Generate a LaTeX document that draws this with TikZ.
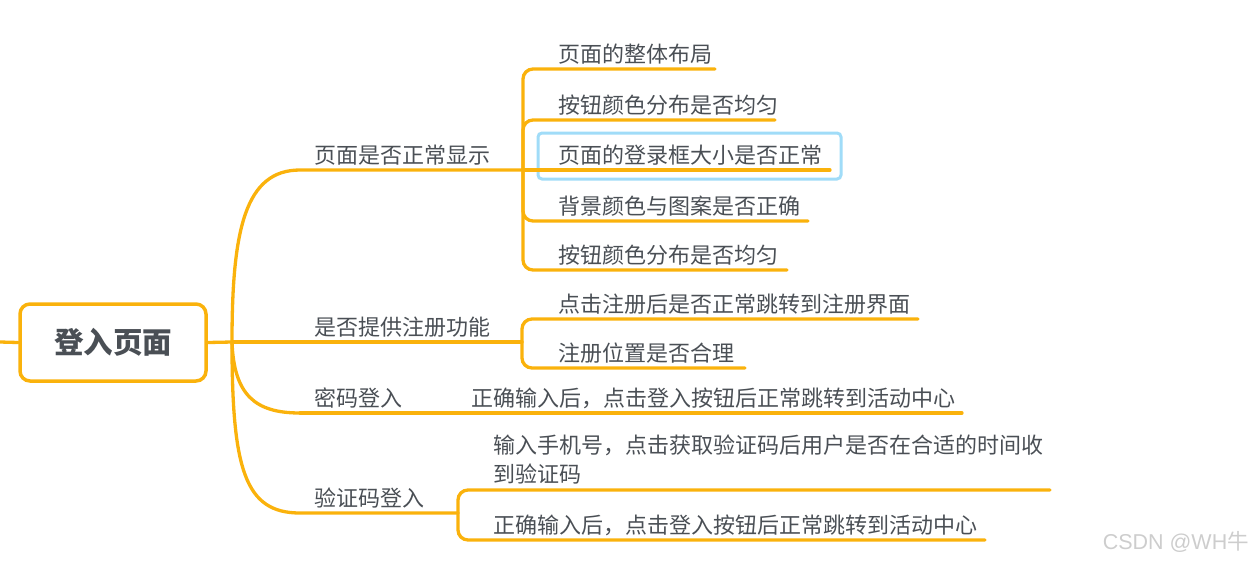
\documentclass[tikz,border=0pt]{standalone}
\usepackage{fontspec}
\setmainfont{Noto Sans CJK SC}
\newfontfamily\cjk{Noto Sans CJK SC}
\newfontfamily\wmfont{Liberation Sans}
\definecolor{branch}{RGB}{250,178,12}
\definecolor{txt}{RGB}{74,79,85}
\definecolor{sel}{RGB}{160,220,248}
\definecolor{wm}{RGB}{205,205,205}
\tikzset{
  br/.style={draw=branch, line width=3.3pt, line cap=round, rounded corners=10pt},
  lbl/.style={anchor=base west, inner sep=0pt, text=txt, font=\cjk\fontsize{22}{29}\selectfont},
}
\begin{document}
\begin{tikzpicture}[x=1pt,y=-1pt]
\useasboundingbox (0,0) rectangle (1253,563);
% root
\node[draw=branch, line width=3.5pt, rounded corners=10pt, minimum width=186pt, minimum height=77pt, inner sep=0pt,
  text=txt, font=\cjk\bfseries\fontsize{29.5}{34}\selectfont] (root) at (113,342.5) {登入页面};
\coordinate (stub) at (0,342);
\draw[br, rounded corners=0pt] (stub) -- (root.west);
\coordinate (J) at (232,342);
% level 1 labels
\node[lbl] (A) at (314,163) {页面是否正常显示};
\node[lbl] (B) at (314,335) {是否提供注册功能};
\node[lbl] (C) at (314,406) {密码登入};
\node[lbl] (D) at (314,506) {验证码登入};
% junctions
\coordinate (JA) at (523,170);
\coordinate (JB) at (522,342);
\coordinate (JD) at (458,513);
\coordinate (A0) at (300,170);
\coordinate (C0) at (300,413);
\coordinate (D0) at (300,513);
\draw[br, rounded corners=0pt] (root.east) -- (J);
\draw[br, rounded corners=0pt] (J) .. controls (232,230) and (245,170) .. (A0) -- (JA);
\draw[br, rounded corners=0pt] (J) -- (JB);
\draw[br, rounded corners=0pt] (J) .. controls (234,395) and (255,413) .. (C0);
\draw[br, rounded corners=0pt] (J) .. controls (232,470) and (245,513) .. (D0) -- (JD);
% selection box
\draw[draw=sel, line width=3pt, rounded corners=4pt] (538,133) rectangle (841,179);
% A children
\node[lbl] (A1) at (558,62) {页面的整体布局};
\node[lbl] (A2) at (558,113) {按钮颜色分布是否均匀};
\node[lbl] (A3) at (558,163) {页面的登录框大小是否正常};
\node[lbl] (A4) at (558,214) {背景颜色与图案是否正确};
\node[lbl] (A5) at (558,263) {按钮颜色分布是否均匀};
\coordinate (A1e) at (715,69);
\coordinate (A2e) at (775,120);
\coordinate (A3e) at (830,170);
\coordinate (A4e) at (808,221);
\coordinate (A5e) at (787,270);
\draw[br] (JA) |- (A1e);
\draw[br] (JA) |- (A2e);
\draw[br] (JA) -- (A3e);
\draw[br] (JA) |- (A4e);
\draw[br] (JA) |- (A5e);
% B children
\node[lbl] (B1) at (558,312) {点击注册后是否正常跳转到注册界面};
\node[lbl] (B2) at (558,361) {注册位置是否合理};
\coordinate (B1e) at (918,319);
\coordinate (B2e) at (745,368);
\draw[br] (JB) |- (B1e);
\draw[br] (JB) |- (B2e);
% C child
\node[lbl] (C1) at (471,406) {正确输入后，点击登入按钮后正常跳转到活动中心};
\coordinate (C1e) at (962,413);
\draw[br, rounded corners=0pt] (C0) -- (C1e);
% D children
\node[lbl, align=left, anchor=west] (D1) at (493,460) {输入手机号，点击获取验证码后用户是否在合适的时间收\\到验证码};
\node[lbl] (D2) at (493,533) {正确输入后，点击登入按钮后正常跳转到活动中心};
\coordinate (D1e) at (1050,490);
\coordinate (D2e) at (985,540);
\draw[br] (JD) |- (D1e);
\draw[br] (JD) |- (D2e);
% watermark
\node[anchor=base east, inner sep=0pt, text=wm, font=\wmfont\fontsize{21.5}{24}\selectfont] (wmk) at (1249,549) {CSDN @WH{\cjk 牛}};
\end{tikzpicture}
\end{document}
